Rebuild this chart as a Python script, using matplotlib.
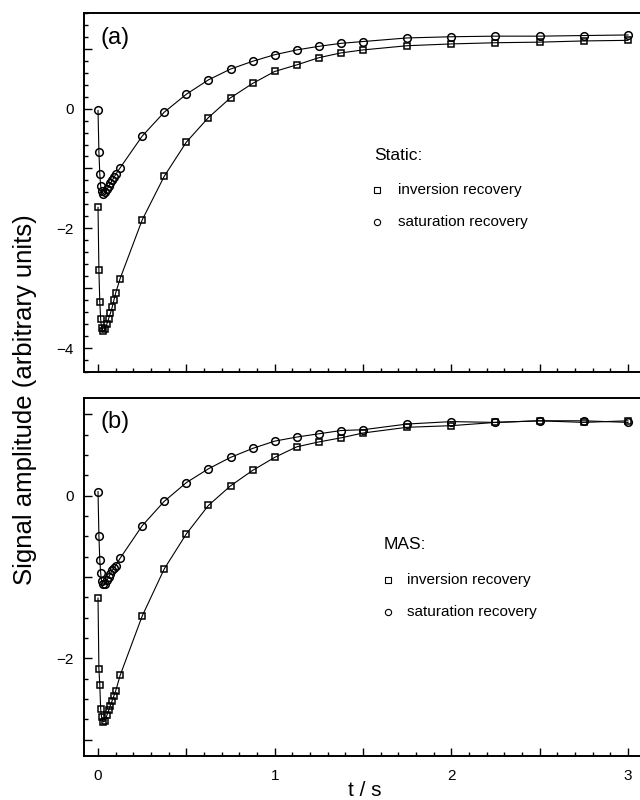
import numpy as np
import matplotlib
matplotlib.use("Agg")
import matplotlib.pyplot as plt
from matplotlib.ticker import MultipleLocator, FuncFormatter

plt.rcParams['font.family'] = ['Liberation Sans', 'DejaVu Sans']

# delay times (s)
t = [0, 0.005, 0.01, 0.015, 0.02, 0.03, 0.04, 0.05, 0.06, 0.07, 0.08, 0.09, 0.1,
     0.125, 0.25, 0.375, 0.5, 0.625, 0.75, 0.875, 1.0, 1.125, 1.25, 1.375, 1.5,
     1.75, 2.0, 2.25, 2.5, 2.75, 3.0]

# (a) static
static_inv = [-1.65, -2.70, -3.23, -3.52, -3.66, -3.72, -3.68, -3.60, -3.51, -3.42,
              -3.32, -3.20, -3.08, -2.84, -1.86, -1.13, -0.56, -0.15, 0.18, 0.42,
              0.62, 0.73, 0.85, 0.93, 0.98, 1.05, 1.08, 1.10, 1.11, 1.13, 1.14]
static_sat = [-0.03, -0.72, -1.09, -1.29, -1.38, -1.42, -1.40, -1.35, -1.30, -1.25,
              -1.20, -1.15, -1.10, -0.99, -0.46, -0.06, 0.24, 0.48, 0.66, 0.79,
              0.90, 0.98, 1.04, 1.09, 1.12, 1.18, 1.20, 1.21, 1.21, 1.22, 1.23]

# (b) MAS
mas_inv = [-1.26, -2.13, -2.33, -2.62, -2.72, -2.78, -2.77, -2.70, -2.64, -2.58,
           -2.52, -2.46, -2.40, -2.21, -1.48, -0.90, -0.47, -0.12, 0.12, 0.31,
           0.47, 0.60, 0.66, 0.71, 0.77, 0.84, 0.86, 0.90, 0.92, 0.90, 0.92]
mas_sat = [0.05, -0.49, -0.79, -0.95, -1.05, -1.09, -1.08, -1.04, -1.00, -0.96,
           -0.92, -0.89, -0.86, -0.77, -0.37, -0.07, 0.16, 0.33, 0.47, 0.58,
           0.67, 0.72, 0.76, 0.80, 0.81, 0.88, 0.91, 0.90, 0.92, 0.92, 0.90]

fig = plt.figure(figsize=(6.4, 8), dpi=100)
ax1 = fig.add_axes([0.1308, 0.535, 0.878, 0.449])
ax2 = fig.add_axes([0.1308, 0.055, 0.878, 0.4475])

def even_int(v, pos):
    if abs(v - round(v)) < 1e-6 and int(round(v)) % 2 == 0:
        return "\u2212%d" % -round(v) if v < 0 else "%d" % round(v)
    return ""

def int_only(v, pos):
    if abs(v - round(v)) < 1e-6:
        return "%d" % round(v)
    return ""

def panel(ax, inv, sat, ylim, yminor, label, ly_lab, title, tx, mx, txt_x, ys):
    ax.plot(t, inv, '-', color='k', lw=0.8, marker='s', ms=5, mfc='none',
            mec='k', mew=1.1)
    ax.plot(t, sat, '-', color='k', lw=0.8, marker='o', ms=5.5, mfc='none',
            mec='k', mew=1.1)
    ax.set_xlim(-0.081, 3.1)
    ax.set_ylim(*ylim)
    ax.xaxis.set_major_locator(MultipleLocator(0.5))
    ax.xaxis.set_minor_locator(MultipleLocator(0.1))
    ax.yaxis.set_major_locator(MultipleLocator(1))
    ax.yaxis.set_minor_locator(MultipleLocator(yminor))
    ax.yaxis.set_major_formatter(FuncFormatter(even_int))
    ax.xaxis.set_major_formatter(FuncFormatter(int_only))
    ax.tick_params(which='both', direction='in', top=False, right=False,
                   labelsize=11, width=1.0)
    ax.tick_params(which='major', length=6)
    ax.tick_params(which='minor', length=3)
    ax.tick_params(axis='y', pad=7)
    ax.tick_params(axis='x', pad=9)
    for s in ax.spines.values():
        s.set_linewidth(1.4)
    ax.text(0.03, ly_lab, label, transform=ax.transAxes, fontsize=17,
            va='center', ha='left')
    # in-axes legend
    ax.text(tx, ys[0], title, transform=ax.transAxes, fontsize=12.5, va='center')
    ax.plot([mx], [ys[1]], transform=ax.transAxes, marker='s', ms=4.5,
            mfc='none', mec='k', mew=0.8, ls='none')
    ax.text(txt_x, ys[1], "inversion recovery", transform=ax.transAxes,
            fontsize=11, va='center')
    ax.plot([mx], [ys[2]], transform=ax.transAxes, marker='o', ms=4.5,
            mfc='none', mec='k', mew=0.8, ls='none')
    ax.text(txt_x, ys[2], "saturation recovery", transform=ax.transAxes,
            fontsize=11, va='center')

panel(ax1, static_inv, static_sat, (-4.4, 1.6), 0.2, "(a)", 0.93, "Static:",
      0.517, 0.522, 0.56, (0.604, 0.507, 0.418))
panel(ax2, mas_inv, mas_sat, (-3.2, 1.2), 0.25, "(b)", 0.933, "MAS:",
      0.533, 0.541, 0.575, (0.592, 0.492, 0.402))

ax1.tick_params(axis='x', labelbottom=False)
ax2.set_xlabel("t / s", fontsize=15, labelpad=-1)
fig.text(0.039, 0.5, "Signal amplitude (arbitrary units)", rotation=90,
         fontsize=18.5, va='center', ha='center')

fig.savefig("out.png", dpi=100)
